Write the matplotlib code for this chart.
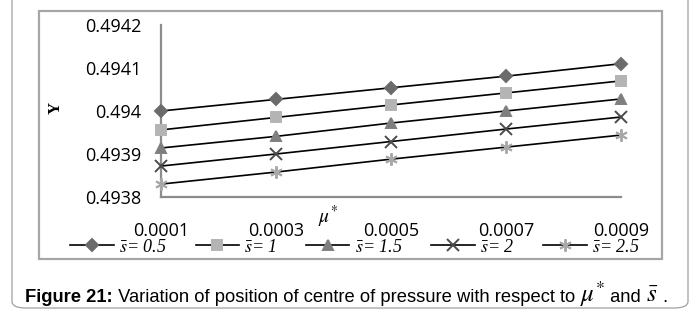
import numpy as np
import matplotlib
matplotlib.use('Agg')
import matplotlib.pyplot as plt
from matplotlib.patches import FancyBboxPatch, Rectangle

plt.rcParams['mathtext.fontset'] = 'stix'

mu = [0.0001, 0.0003, 0.0005, 0.0007, 0.0009]
s_labels = ['0.5', '1', '1.5', '2', '2.5']
y_s05 = [0.494000, 0.494027, 0.494054, 0.494081, 0.494110]
y_s1 = [0.493956, 0.493985, 0.494014, 0.494042, 0.494070]
y_s15 = [0.493914, 0.493941, 0.493972, 0.494000, 0.494028]
y_s2 = [0.493872, 0.493900, 0.493929, 0.493958, 0.493986]
y_s25 = [0.493830, 0.493858, 0.493888, 0.493916, 0.493944]
yticks = [0.4938, 0.4939, 0.494, 0.4941, 0.4942]
ytick_labels = ['0.4938', '0.4939', '0.494', '0.4941', '0.4942']
xtick_labels = ['0.0001', '0.0003', '0.0005', '0.0007', '0.0009']

series = [y_s05, y_s1, y_s15, y_s2, y_s25]
markers = ['D', 's', '^', 'x', (6, 2, 0)]
mcolors = ['#6b6b6b', '#b4b4b4', '#7f7f7f', '#4a4a4a', '#a8a8a8']
msizes = [6, 7.5, 7, 8, 9]

W, H = 696, 323
fig = plt.figure(figsize=(W / 100, H / 100), dpi=100)

# outer rounded frame and inner chart frame
fig.patches.append(FancyBboxPatch((12 / W, 1 - 308 / H), 676 / W, 320 / H,
                                  boxstyle='round,pad=0,rounding_size=0.02',
                                  transform=fig.transFigure, fc='white',
                                  ec='#a0a0a0', lw=0.9, zorder=-5))
fig.patches.append(Rectangle((39 / W, 1 - 259 / H), 623 / W, 248 / H,
                             transform=fig.transFigure, fc='none',
                             ec='#a6a6a6', lw=1.6, zorder=-4))

ax = fig.add_axes([161 / W, 1 - 197 / H, 460 / W, 172 / H])
ax.set_facecolor('none')
for y, m, c, ms, lab in zip(series, markers, mcolors, msizes, s_labels):
    ax.plot(mu, y, color='black', lw=1.2, marker=m, markersize=ms,
            markerfacecolor=c, markeredgecolor=c, markeredgewidth=1.4,
            label=r'$\bar{s}$= ' + lab, clip_on=False, zorder=3)

ax.set_xlim(0.0001, 0.0009)
ax.set_ylim(0.4938, 0.4942)
ax.set_xticks(mu)
ax.set_xticklabels(xtick_labels)
ax.set_yticks(yticks)
ax.set_yticklabels(ytick_labels)
ax.tick_params(length=0, labelsize=13)
ax.tick_params(axis='x', pad=18)
ax.tick_params(axis='y', pad=14)
for lbl in ax.get_xticklabels() + ax.get_yticklabels():
    lbl.set_family('Open Sans')
for sp in ['top', 'right']:
    ax.spines[sp].set_visible(False)
for sp in ['left', 'bottom']:
    ax.spines[sp].set_color('#8c8c8c')
    ax.spines[sp].set_linewidth(1.6)

fig.text(56 / W, 1 - 108 / H, 'Y', rotation=90, fontsize=12,
         family='Liberation Serif', weight='bold', ha='center', va='center')
fig.text(328 / W, 1 - 217 / H, r'$\mu^{*}$', fontsize=14,
         ha='center', va='center')

leg = fig.legend(loc='center', bbox_to_anchor=(355 / W, 1 - 247 / H), ncol=5,
                 frameon=False, handlelength=2.4, handletextpad=0.3,
                 columnspacing=1.6,
                 prop={'family': 'Liberation Serif', 'style': 'italic', 'size': 13})

# caption, drawn piece by piece
y_cap = 1 - 302 / H
pieces = [('Figure 21:', 'bold', 13.2),
          (' Variation of position of centre of pressure with respect to ', 'normal', 13.2),
          (r'$\mu^{*}$', 'normal', 18),
          (' and ', 'normal', 13.2),
          (r'$\bar{s}$', 'normal', 18),
          (' .', 'normal', 13.2)]
r = fig.canvas.get_renderer()
x = 25
for txt, wt, fs in pieces:
    t = fig.text(x / W, y_cap, txt, fontsize=fs, weight=wt,
                 family='Liberation Sans', va='baseline')
    x = t.get_window_extent(r).x1

fig.savefig('out.png', dpi=100, facecolor='white')
